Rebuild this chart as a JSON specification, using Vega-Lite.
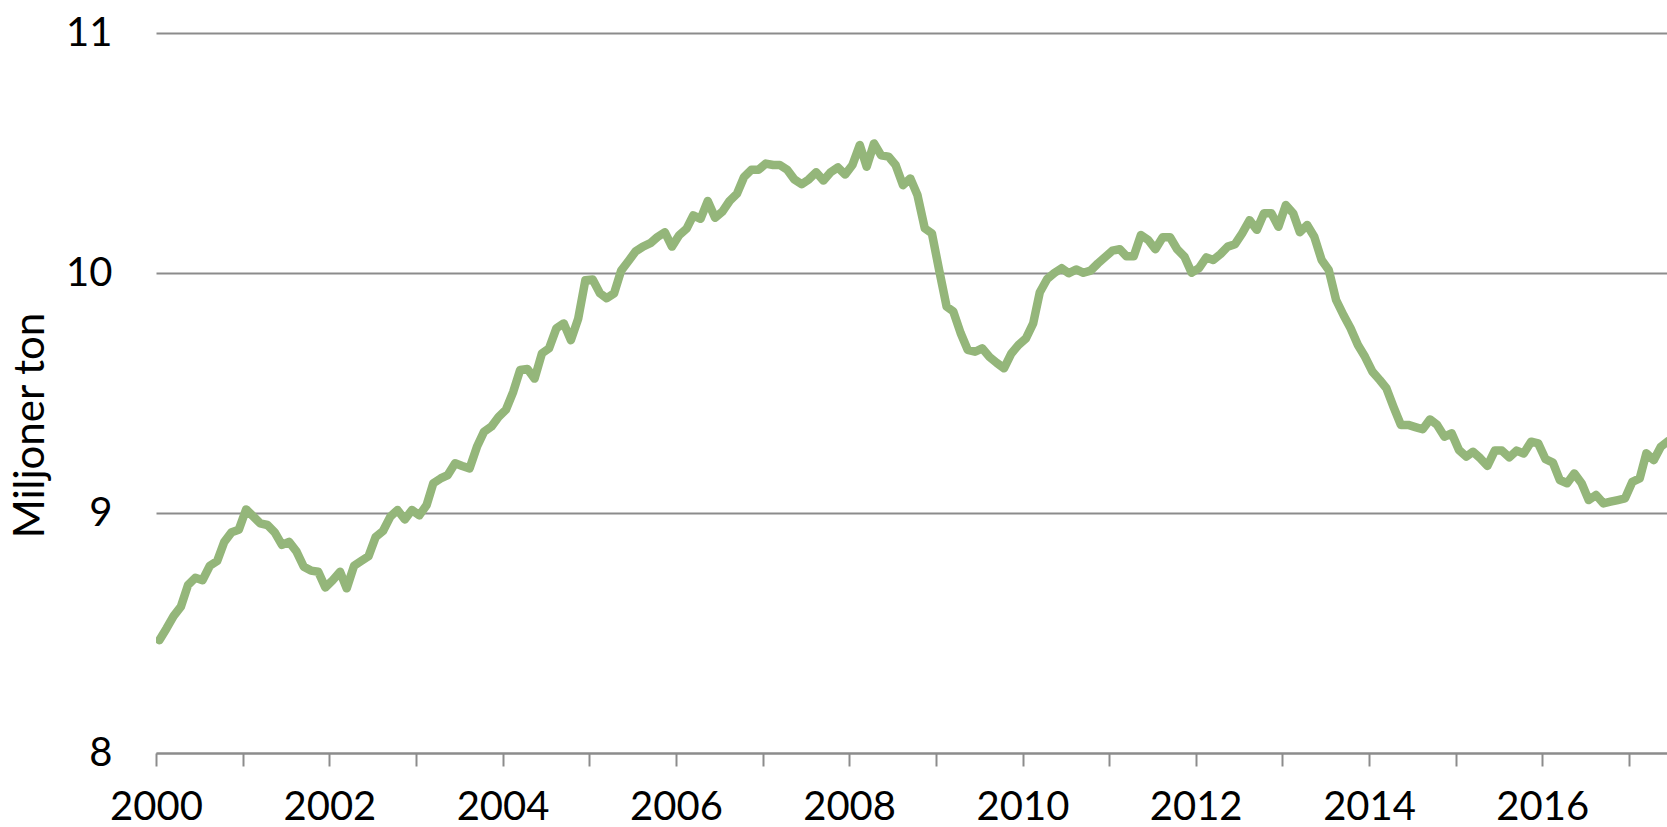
{
  "$schema": "https://vega.github.io/schema/vega-lite/v6.json",
  "width": 1511,
  "height": 720,
  "autosize": "none",
  "padding": {"left": 156, "top": 33, "right": 0, "bottom": 74},
  "background": "white",
  "config": {"view": {"stroke": null}, "font": "Lato"},
  "data": {
    "format": {"parse": {"date": "date:'%Y-%m-%d'"}},
    "values": [
      {"date":"2000-01-15","v":8.47},{"date":"2000-02-15","v":8.52},{"date":"2000-03-15","v":8.57},{"date":"2000-04-15","v":8.61},{"date":"2000-05-15","v":8.70},{"date":"2000-06-15","v":8.73},{"date":"2000-07-15","v":8.72},{"date":"2000-08-15","v":8.78},{"date":"2000-09-15","v":8.80},{"date":"2000-10-15","v":8.88},{"date":"2000-11-15","v":8.92},{"date":"2000-12-15","v":8.93},
      {"date":"2001-01-15","v":9.015},{"date":"2001-02-15","v":8.985},{"date":"2001-03-15","v":8.957},{"date":"2001-04-15","v":8.95},{"date":"2001-05-15","v":8.92},{"date":"2001-06-15","v":8.867},{"date":"2001-07-15","v":8.88},{"date":"2001-08-15","v":8.84},{"date":"2001-09-15","v":8.776},{"date":"2001-10-15","v":8.76},{"date":"2001-11-15","v":8.755},{"date":"2001-12-15","v":8.69},
      {"date":"2002-01-15","v":8.72},{"date":"2002-02-15","v":8.755},{"date":"2002-03-15","v":8.686},{"date":"2002-04-15","v":8.78},{"date":"2002-05-15","v":8.80},{"date":"2002-06-15","v":8.82},{"date":"2002-07-15","v":8.90},{"date":"2002-08-15","v":8.925},{"date":"2002-09-15","v":8.985},{"date":"2002-10-15","v":9.0125},{"date":"2002-11-15","v":8.973},{"date":"2002-12-15","v":9.0125},
      {"date":"2003-01-15","v":8.99},{"date":"2003-02-15","v":9.033},{"date":"2003-03-15","v":9.124},{"date":"2003-04-15","v":9.144},{"date":"2003-05-15","v":9.158},{"date":"2003-06-15","v":9.207},{"date":"2003-07-15","v":9.196},{"date":"2003-08-15","v":9.186},{"date":"2003-09-15","v":9.276},{"date":"2003-10-15","v":9.339},{"date":"2003-11-15","v":9.36},{"date":"2003-12-15","v":9.40},
      {"date":"2004-01-15","v":9.43},{"date":"2004-02-15","v":9.505},{"date":"2004-03-15","v":9.596},{"date":"2004-04-15","v":9.60},{"date":"2004-05-15","v":9.56},{"date":"2004-06-15","v":9.665},{"date":"2004-07-15","v":9.686},{"date":"2004-08-15","v":9.77},{"date":"2004-09-15","v":9.79},{"date":"2004-10-15","v":9.72},{"date":"2004-11-15","v":9.81},{"date":"2004-12-15","v":9.97},
      {"date":"2005-01-15","v":9.973},{"date":"2005-02-15","v":9.915},{"date":"2005-03-15","v":9.895},{"date":"2005-04-15","v":9.915},{"date":"2005-05-15","v":10.01},{"date":"2005-06-15","v":10.05},{"date":"2005-07-15","v":10.09},{"date":"2005-08-15","v":10.11},{"date":"2005-09-15","v":10.124},{"date":"2005-10-15","v":10.15},{"date":"2005-11-15","v":10.17},{"date":"2005-12-15","v":10.11},
      {"date":"2006-01-15","v":10.158},{"date":"2006-02-15","v":10.185},{"date":"2006-03-15","v":10.24},{"date":"2006-04-15","v":10.226},{"date":"2006-05-15","v":10.30},{"date":"2006-06-15","v":10.23},{"date":"2006-07-15","v":10.255},{"date":"2006-08-15","v":10.30},{"date":"2006-09-15","v":10.33},{"date":"2006-10-15","v":10.40},{"date":"2006-11-15","v":10.43},{"date":"2006-12-15","v":10.43},
      {"date":"2007-01-15","v":10.456},{"date":"2007-02-15","v":10.45},{"date":"2007-03-15","v":10.45},{"date":"2007-04-15","v":10.43},{"date":"2007-05-15","v":10.39},{"date":"2007-06-15","v":10.37},{"date":"2007-07-15","v":10.39},{"date":"2007-08-15","v":10.42},{"date":"2007-09-15","v":10.385},{"date":"2007-10-15","v":10.42},{"date":"2007-11-15","v":10.44},{"date":"2007-12-15","v":10.41},
      {"date":"2008-01-15","v":10.45},{"date":"2008-02-15","v":10.533},{"date":"2008-03-15","v":10.443},{"date":"2008-04-15","v":10.54},{"date":"2008-05-15","v":10.49},{"date":"2008-06-15","v":10.485},{"date":"2008-07-15","v":10.45},{"date":"2008-08-15","v":10.366},{"date":"2008-09-15","v":10.394},{"date":"2008-10-15","v":10.325},{"date":"2008-11-15","v":10.186},{"date":"2008-12-15","v":10.165},
      {"date":"2009-01-15","v":10.01},{"date":"2009-02-15","v":9.86},{"date":"2009-03-15","v":9.84},{"date":"2009-04-15","v":9.75},{"date":"2009-05-15","v":9.68},{"date":"2009-06-15","v":9.672},{"date":"2009-07-15","v":9.686},{"date":"2009-08-15","v":9.65},{"date":"2009-09-15","v":9.625},{"date":"2009-10-15","v":9.603},{"date":"2009-11-15","v":9.665},{"date":"2009-12-15","v":9.70},
      {"date":"2010-01-15","v":9.727},{"date":"2010-02-15","v":9.79},{"date":"2010-03-15","v":9.92},{"date":"2010-04-15","v":9.975},{"date":"2010-05-15","v":10.0},{"date":"2010-06-15","v":10.02},{"date":"2010-07-15","v":9.999},{"date":"2010-08-15","v":10.015},{"date":"2010-09-15","v":10.001},{"date":"2010-10-15","v":10.01},{"date":"2010-11-15","v":10.04},{"date":"2010-12-15","v":10.066},
      {"date":"2011-01-15","v":10.093},{"date":"2011-02-15","v":10.099},{"date":"2011-03-15","v":10.07},{"date":"2011-04-15","v":10.07},{"date":"2011-05-15","v":10.158},{"date":"2011-06-15","v":10.1375},{"date":"2011-07-15","v":10.099},{"date":"2011-08-15","v":10.149},{"date":"2011-09-15","v":10.149},{"date":"2011-10-15","v":10.099},{"date":"2011-11-15","v":10.068},{"date":"2011-12-15","v":10.001},
      {"date":"2012-01-15","v":10.02},{"date":"2012-02-15","v":10.065},{"date":"2012-03-15","v":10.054},{"date":"2012-04-15","v":10.079},{"date":"2012-05-15","v":10.11},{"date":"2012-06-15","v":10.12},{"date":"2012-07-15","v":10.165},{"date":"2012-08-15","v":10.22},{"date":"2012-09-15","v":10.18},{"date":"2012-10-15","v":10.249},{"date":"2012-11-15","v":10.249},{"date":"2012-12-15","v":10.193},
      {"date":"2013-01-15","v":10.283},{"date":"2013-02-15","v":10.249},{"date":"2013-03-15","v":10.17},{"date":"2013-04-15","v":10.20},{"date":"2013-05-15","v":10.151},{"date":"2013-06-15","v":10.054},{"date":"2013-07-15","v":10.0125},{"date":"2013-08-15","v":9.8875},{"date":"2013-09-15","v":9.825},{"date":"2013-10-15","v":9.77},{"date":"2013-11-15","v":9.70},{"date":"2013-12-15","v":9.651},
      {"date":"2014-01-15","v":9.589},{"date":"2014-02-15","v":9.554},{"date":"2014-03-15","v":9.52},{"date":"2014-04-15","v":9.44},{"date":"2014-05-15","v":9.367},{"date":"2014-06-15","v":9.367},{"date":"2014-07-15","v":9.358},{"date":"2014-08-15","v":9.349},{"date":"2014-09-15","v":9.39},{"date":"2014-10-15","v":9.367},{"date":"2014-11-15","v":9.318},{"date":"2014-12-15","v":9.332},
      {"date":"2015-01-15","v":9.2625},{"date":"2015-02-15","v":9.235},{"date":"2015-03-15","v":9.255},{"date":"2015-04-15","v":9.228},{"date":"2015-05-15","v":9.196},{"date":"2015-06-15","v":9.26},{"date":"2015-07-15","v":9.26},{"date":"2015-08-15","v":9.232},{"date":"2015-09-15","v":9.26},{"date":"2015-10-15","v":9.248},{"date":"2015-11-15","v":9.297},{"date":"2015-12-15","v":9.29},
      {"date":"2016-01-15","v":9.224},{"date":"2016-02-15","v":9.21},{"date":"2016-03-15","v":9.1375},{"date":"2016-04-15","v":9.124},{"date":"2016-05-15","v":9.165},{"date":"2016-06-15","v":9.124},{"date":"2016-07-15","v":9.054},{"date":"2016-08-15","v":9.075},{"date":"2016-09-15","v":9.04},{"date":"2016-10-15","v":9.047},{"date":"2016-11-15","v":9.054},{"date":"2016-12-15","v":9.061},
      {"date":"2017-01-15","v":9.13},{"date":"2017-02-15","v":9.144},{"date":"2017-03-15","v":9.249},{"date":"2017-04-15","v":9.22},{"date":"2017-05-15","v":9.276},{"date":"2017-06-15","v":9.30}
    ]
  },
  "mark": {"type": "line", "color": "#94b67a", "strokeWidth": 8.5, "strokeCap": "round", "strokeJoin": "round", "clip": true},
  "encoding": {
    "x": {
      "field": "date",
      "type": "temporal",
      "scale": {"domain": [{"year": 2000, "month": 1, "date": 1}, {"year": 2017, "month": 6, "date": 10}]},
      "axis": {
        "title": null,
        "grid": false,
        "tickCount": {"interval": "year", "step": 1},
        "labelExpr": "year(datum.value) % 2 == 0 ? timeFormat(datum.value, '%Y') : ''",
        "domainColor": "#8c8c8c",
        "domainWidth": 2,
        "tickColor": "#8c8c8c",
        "tickWidth": 2,
        "tickSize": 13,
        "labelPadding": 21,
        "labelFontSize": 40,
        "labelFontWeight": 400,
        "labelColor": "#000000",
        "labelFont": "Lato",
        "labelBaseline": "top",
        "labelFlush": false,
        "labelOverlap": false
      }
    },
    "y": {
      "field": "v",
      "type": "quantitative",
      "scale": {"domain": [8, 11], "nice": false, "zero": false},
      "axis": {
        "title": "Miljoner ton",
        "values": [8, 9, 10, 11],
        "domain": false,
        "ticks": false,
        "tickSize": 0,
        "grid": true,
        "gridColor": "#8c8c8c",
        "gridWidth": 2,
        "labelPadding": 44,
        "labelFontSize": 40,
        "labelFontWeight": 400,
        "labelColor": "#000000",
        "labelFont": "Lato",
        "titleFont": "Lato",
        "titleFontSize": 42,
        "titleFontWeight": 400,
        "titleColor": "#000000",
        "titleAngle": -90,
        "titleX": -113,
        "titleY": 392,
        "titleAlign": "center",
        "titleBaseline": "alphabetic"
      }
    }
  }
}
